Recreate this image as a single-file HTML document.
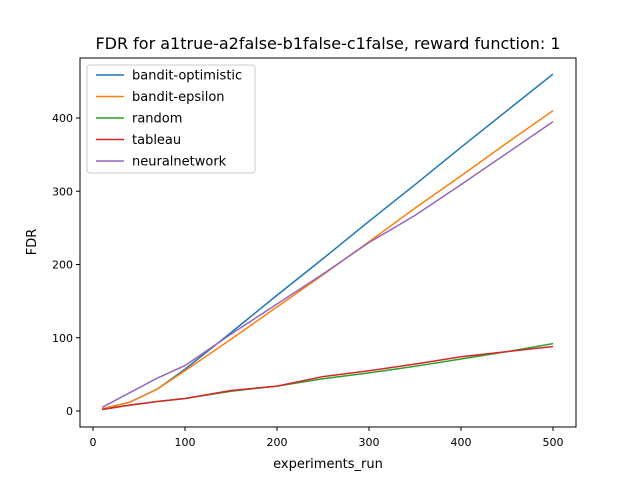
<!DOCTYPE html>
<html><head><meta charset="utf-8"><style>
body{margin:0;background:#fff}
svg{font-family:"DejaVu Sans","Liberation Sans",sans-serif}
</style></head><body>
<svg id="c" width="640" height="480">
<rect width="640" height="480" fill="#fff"/>
<text x="328" y="49" text-anchor="middle" font-size="16">FDR for a1true-a2false-b1false-c1false, reward function: 1</text>
<g id="plot"></g>
<rect x="80" y="58" width="496" height="369" fill="none" stroke="#000" stroke-width="1"/>
<text x="328" y="468" text-anchor="middle" font-size="13">experiments_run</text>
<text transform="translate(36,242) rotate(-90)" text-anchor="middle" font-size="13">FDR</text>
</svg>
<script>
const xs=[10,40,70,100,150,200,250,300,350,400,450,500];
const optimistic=[3,12,30,57,107,158,208,259,309,360,410,460];
const epsilon=[3,12,30,55,98,142,186,231,277,321,366,410];
const random=[2,8,13,17,27,34,44,52,61,71,81,92];
const tableau=[2,8,13,17,28,34,47,55,64,74,81,88];
const neural=[5,25,45,62,105,146,187,230,267,309,352,395];
const xTicks=[0,100,200,300,400,500];
const yTicks=[0,100,200,300,400];
const series=[["bandit-optimistic","#1f77b4",optimistic],["bandit-epsilon","#ff7f0e",epsilon],["random","#2ca02c",random],["tableau","#d62728",tableau],["neuralnetwork","#9467bd",neural]];
const X=v=>93+v*0.92, Y=v=>411-v*0.7325;
const NS="http://www.w3.org/2000/svg", g=document.getElementById('plot');
function mk(t,a,p){const e=document.createElementNS(NS,t);for(const k in a)e.setAttribute(k,a[k]);(p||g).appendChild(e);return e;}
xTicks.forEach(v=>{
 const l=mk('line',{x1:X(v),x2:X(v),y1:427,y2:431,stroke:'#000'});
 
 
 const t=mk('text',{x:X(v),y:446,'text-anchor':'middle','font-size':'11'});t.textContent=v;
 
 
});
yTicks.forEach(v=>{
 const l=mk('line',{x1:76,x2:80,y1:Y(v),y2:Y(v),stroke:'#000'});
 
 
 const t=mk('text',{x:73,y:Y(v)+4,'text-anchor':'end','font-size':'11'});t.textContent=v;
 
 
});
series.forEach(s=>{
 const p=mk('polyline',{points:xs.map((x,i)=>X(x)+','+Y(s[2][i])).join(' '),fill:'none',stroke:s[1],'stroke-width':1.5});
 
 
});
const lg=mk('g',{});


mk('rect',{x:87,y:65,width:168,height:108,rx:3,fill:'#fff','fill-opacity':0.8,stroke:'#ccc'},lg);
series.forEach((s,i)=>{
 const y=75+i*21.5;
 const e=mk('g',{},lg);
 
 
 mk('line',{x1:96,x2:124,y1:y,y2:y,stroke:s[1],'stroke-width':1.5},e);
 const t=mk('text',{x:132,y:y+4.5,'font-size':'13'},e);t.textContent=s[0];
});
</script>
</body></html>
